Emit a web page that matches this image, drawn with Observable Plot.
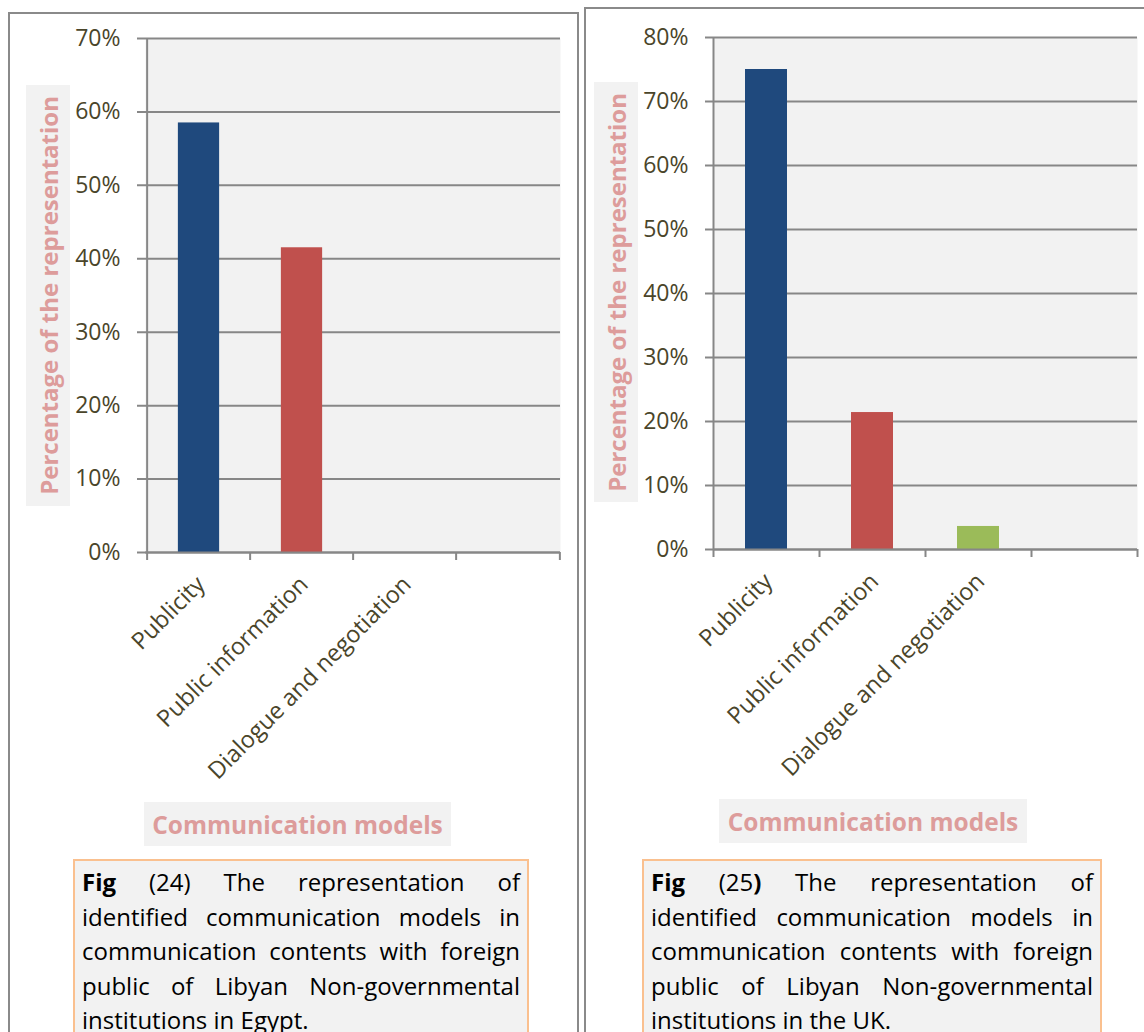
<!DOCTYPE html>
<html>
<head>
<meta charset="utf-8">
<script src="https://cdn.jsdelivr.net/npm/d3@7"></script>
<script src="https://cdn.jsdelivr.net/npm/@observablehq/plot@0.6"></script>
<style>
  body { margin: 0; background: #fff; }
  #page { position: relative; width: 1144px; height: 1032px; overflow: hidden; font-family: "Open Sans", sans-serif; }
  .panel { position: absolute; border: 2px solid #8a8a8a; box-sizing: border-box; }
  .chart { position: absolute; top: 0; }
  .ytitle { position: absolute; background: #f2f2f2; color: #dd9c9b; font-weight: 700; font-size: 24px;
            display: flex; align-items: center; justify-content: center; }
  .ytitle span { writing-mode: vertical-rl; transform: rotate(180deg); white-space: nowrap; }
  .xtitle { position: absolute; background: #f2f2f2; color: #dd9c9b; font-weight: 700; font-size: 24.5px;
            display: flex; align-items: center; justify-content: center; white-space: nowrap; }
  .caption { position: absolute; background: #f2f2f2; border: 2px solid #fac08f; box-sizing: border-box;
             font-size: 24px; line-height: 34.6px; text-align: justify; color: #000; padding: 4px 7px 0 7px; }
  .caption .nw { white-space: nowrap; }
</style>
</head>
<body>
<div id="page">
  <div class="panel" style="left:8px; top:12px; width:571px; height:1100px;"></div>
  <div class="panel" style="left:584px; top:7px; width:600px; height:1100px;"></div>

  <div id="chart-egypt" class="chart" style="left:0px;"></div>
  <div id="chart-uk" class="chart" style="left:580px;"></div>

  <div class="ytitle" style="left:26px; top:85px; width:44px; height:421px;"><span>Percentage of the representation</span></div>
  <div class="ytitle" style="left:594px; top:82px; width:44px; height:420px;"><span>Percentage of the representation</span></div>

  <div class="xtitle" style="left:144px; top:802px; width:307px; height:44px;">Communication models</div>
  <div class="xtitle" style="left:719px; top:799px; width:308px; height:44px;">Communication models</div>

  <div class="caption" style="left:73px; top:859px; width:456px; height:200px;">
    <b>Fig</b> (24) The representation of identified communication models in communication contents with foreign public of Libyan <span class="nw">Non-governmental</span> institutions in Egypt.
  </div>
  <div class="caption" style="left:642px; top:859px; width:460px; height:200px;">
    <b>Fig</b> (25<b>)</b> The representation of identified communication models in communication contents with foreign public of Libyan <span class="nw">Non-governmental</span> institutions in the UK.
  </div>
</div>

<script>
// Communication models (the fourth slot is an empty category on the axis)
const categories = ["Publicity", "Public information", "Dialogue and negotiation", ""];
const barColors = ["#1f497d", "#c0504d", "#9bbb59"];

// Share of each model in the content of the institutions
const egyptShare = [0.585, 0.415, 0];
const ukShare = [0.75, 0.214, 0.036];

// Value-axis ticks
const egyptTicks = [0, 0.1, 0.2, 0.3, 0.4, 0.5, 0.6, 0.7];
const ukTicks = [0, 0.1, 0.2, 0.3, 0.4, 0.5, 0.6, 0.7, 0.8];

const gridColor = "#878787";
const textColor = "#4a452a";
const barWidth = 42;

function drawChart({values, ticks, width, height, marginLeft, marginRight, marginTop, marginBottom}) {
  const data = values.map((v, i) => ({model: categories[i], share: v}));
  const step = (width - marginLeft - marginRight) / categories.length;
  const inset = (step - barWidth) / 2;
  return Plot.plot({
    width, height, marginLeft, marginRight, marginTop, marginBottom,
    style: {fontFamily: "'Open Sans', sans-serif", fontSize: "23px", background: "transparent", color: textColor, overflow: "visible"},
    x: {domain: categories, padding: 0, axis: null, label: null},
    y: {domain: [0, ticks[ticks.length - 1]], axis: null, label: null},
    color: {domain: categories.slice(0, 3), range: barColors},
    marks: [
      // plot area background
      Plot.frame({fill: "#f2f2f2", stroke: "none"}),
      // horizontal gridlines with their outside tick
      Plot.ruleY(ticks, {stroke: gridColor, strokeWidth: 2, insetLeft: -8}),
      // bars
      Plot.barY(data, {x: "model", y: "share", fill: "model", insetLeft: inset, insetRight: inset}),
      // category axis line (left) and tick marks between categories
      Plot.ruleX(categories.slice(0, 1), {x: d => d, dx: -step / 2, stroke: gridColor, strokeWidth: 2, insetBottom: -8}),
      Plot.ruleX(categories.slice(1), {x: d => d, y1: 0, y2: 0, dx: -step / 2, stroke: gridColor, strokeWidth: 2, insetBottom: -8}),
      Plot.ruleX(categories.slice(-1), {x: d => d, y1: 0, y2: 0, dx: step / 2, stroke: gridColor, strokeWidth: 2, insetBottom: -8}),
      Plot.ruleY([0], {stroke: gridColor, strokeWidth: 2}),
      Plot.axisY({ticks, tickSize: 0, tickPadding: 25, tickFormat: d3.format(".0%"), fill: textColor, fontSize: 23, label: null}),
      Plot.axisX({tickSize: 0, tickRotate: -45, tickPadding: 28, dx: 2, fill: textColor, fontSize: 23.5, label: null})
    ]
  });
}

document.getElementById("chart-egypt").append(drawChart({
  values: egyptShare, ticks: egyptTicks,
  width: 580, height: 800, marginLeft: 145, marginRight: 20, marginTop: 38, marginBottom: 248
}));

document.getElementById("chart-uk").append(drawChart({
  values: ukShare, ticks: ukTicks,
  width: 564, height: 800, marginLeft: 133, marginRight: 7, marginTop: 37, marginBottom: 251
}));
</script>
</body>
</html>
